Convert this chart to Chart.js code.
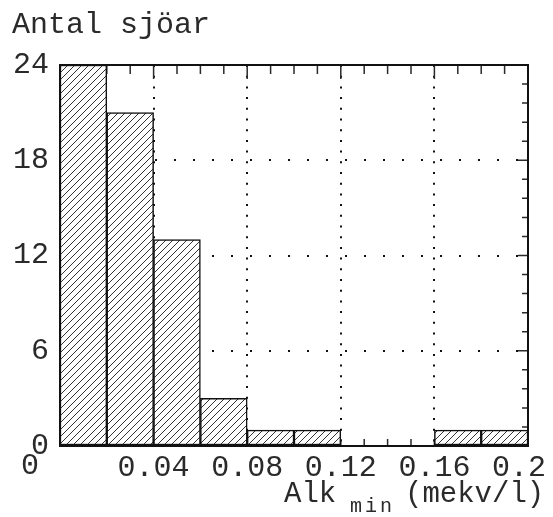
<!DOCTYPE html>
<html>
<head>
<meta charset="utf-8">
<script src="https://cdn.jsdelivr.net/npm/chart.js@4"></script>
<style>
  html, body { margin: 0; padding: 0; background: #fff; }
</style>
</head>
<body>
<canvas id="chart1" width="553" height="517"></canvas>
<script>
// histogram of lakes by min alkalinity, bins of 0.02
const binLabels = ["0-0.02", "0.02-0.04", "0.04-0.06", "0.06-0.08", "0.08-0.10",
                   "0.10-0.12", "0.12-0.14", "0.14-0.16", "0.16-0.18", "0.18-0.20"];
const lakeCounts = [24, 21, 13, 3, 1, 1, 0, 0, 1, 1];
const xTicks = [0, 0.04, 0.08, 0.12, 0.16, 0.2];
const xTickLabels = ["0", "0.04", "0.08", "0.12", "0.16", "0.2"];
const yTicks = [0, 6, 12, 18, 24];
const yTitle = "Antal sjöar";
const xTitle = ["Alk", "min", "(mekv/l)"];

const FONT = "Liberation Mono";
const INK = "#2a2a2a";

function hatch() {
  const s = 7;
  const c = document.createElement("canvas");
  c.width = c.height = s;
  const g = c.getContext("2d");
  g.fillStyle = "#fff";
  g.fillRect(0, 0, s, s);
  g.strokeStyle = "#333";
  g.lineWidth = 1;
  g.beginPath();
  g.moveTo(0, s); g.lineTo(s, 0);
  g.moveTo(-1, 1); g.lineTo(1, -1);
  g.moveTo(s - 1, s + 1); g.lineTo(s + 1, s - 1);
  g.stroke();
  return g.createPattern(c, "repeat");
}

// small inward ticks on the frame (drawn under the bars)
const innerTicks = {
  id: "innerTicks",
  beforeDatasetsDraw(chart) {
    const { ctx, chartArea: a, scales: { x, y } } = chart;
    ctx.save();
    ctx.strokeStyle = INK;
    ctx.lineWidth = 1.5;
    ctx.beginPath();
    for (let i = 0; i <= 20; i++) {
      const px = x.getPixelForValue(i * 0.01);
      const len = i % 4 === 0 ? 14 : 9;
      ctx.moveTo(px, a.top); ctx.lineTo(px, a.top + len);
      ctx.moveTo(px, a.bottom); ctx.lineTo(px, a.bottom - 7);
    }
    for (let i = 0; i <= 20; i++) {
      const py = y.getPixelForValue(i * 1.2);
      const len = i % 5 === 0 ? 10 : 6;
      ctx.moveTo(a.right, py); ctx.lineTo(a.right - len, py);
    }
    ctx.stroke();
    ctx.restore();
  }
};

// frame + titles
const frame = {
  id: "frame",
  afterDraw(chart) {
    const { ctx, chartArea: a, scales: { x } } = chart;
    ctx.save();
    ctx.strokeStyle = "#111";
    ctx.lineWidth = 2;
    ctx.strokeRect(a.left, a.top, a.right - a.left, a.bottom - a.top);

    ctx.fillStyle = INK;
    ctx.textBaseline = "alphabetic";
    ctx.font = `30px "${FONT}"`;
    ctx.textAlign = "left";
    ctx.fillText(yTitle, 12, 33);

    ctx.textAlign = "center";
    ctx.fillText(xTickLabels[0], x.getPixelForValue(0) - 30, 474);

    ctx.textAlign = "left";
    ctx.font = `29px "${FONT}"`;
    ctx.fillText(xTitle[0], 284, 502);
    ctx.font = `20px "${FONT}"`;
    ctx.letterSpacing = "3px";
    ctx.fillText(xTitle[1], 350, 512);
    ctx.letterSpacing = "0px";
    ctx.font = `29px "${FONT}"`;
    ctx.fillText(xTitle[2], 405, 502);
    ctx.restore();
  }
};

new Chart(document.getElementById("chart1"), {
  type: "bar",
  data: {
    labels: binLabels,
    datasets: [{
      data: lakeCounts,
      xAxisID: "bins",
      yAxisID: "y",
      backgroundColor: hatch(),
      borderColor: "#111",
      borderWidth: 1.5,
      borderSkipped: false,
      barPercentage: 1,
      categoryPercentage: 1
    }]
  },
  options: {
    responsive: false,
    animation: false,
    layout: { padding: { top: 65, right: 25, left: 0, bottom: 0 } },
    plugins: { legend: { display: false }, tooltip: { enabled: false }, title: { display: false } },
    scales: {
      bins: { type: "category", display: false, offset: true },
      x: {
        type: "linear", position: "bottom", min: 0, max: 0.2, offset: false,
        afterBuildTicks: s => { s.ticks = xTicks.map(v => ({ value: v })); },
        afterFit: s => { s.height = 71; s.paddingLeft = 0; s.paddingRight = 0; },
        grid: {
          offset: false, drawTicks: false, lineWidth: 2,
          color: c => (c.tick && c.tick.value > 0 && c.tick.value < 0.2) ? "#111" : "rgba(0,0,0,0)"
        },
        border: { display: false, dash: [2, 8.7] },
        ticks: {
          padding: 4, color: INK, maxRotation: 0, autoSkip: false,
          font: { family: FONT, size: 30 },
          // last label is printed like the 4-char ones, left part of its slot
          callback: (v, i) => i === 0 ? "" : (i === xTicks.length - 1 ? xTickLabels[i] + " " : xTickLabels[i])
        }
      },
      y: {
        min: 0, max: 24,
        afterBuildTicks: s => { s.ticks = yTicks.map(v => ({ value: v })); },
        afterFit: s => { s.width = 60; },
        grid: {
          drawTicks: false, lineWidth: 2,
          color: c => (c.tick && c.tick.value > 0 && c.tick.value < 24) ? "#111" : "rgba(0,0,0,0)"
        },
        border: { display: false, dash: [2, 17] },
        ticks: {
          padding: 11, color: INK,
          font: { family: FONT, size: 30 },
          callback: v => String(v)
        }
      }
    }
  },
  plugins: [innerTicks, frame]
});
</script>
</body>
</html>
